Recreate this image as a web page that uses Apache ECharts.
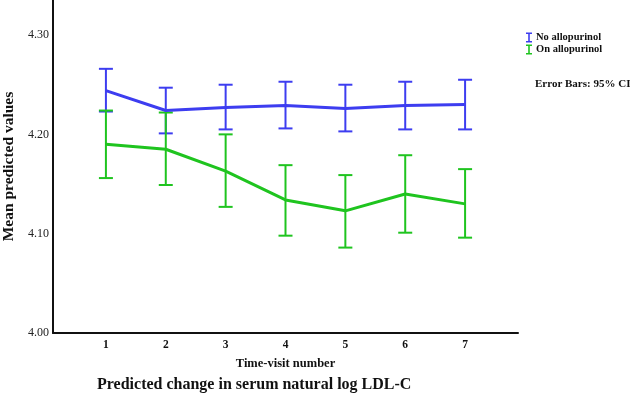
<!DOCTYPE html>
<html>
<head>
<meta charset="utf-8">
<script src="https://cdn.jsdelivr.net/npm/echarts@6/dist/echarts.min.js"></script>
<style>
  html, body { margin: 0; padding: 0; background: #fff; }
  #main { width: 630px; height: 403px; }
</style>
</head>
<body>
<div id="main"></div>
<script>
// visit numbers
var visits = [1, 2, 3, 4, 5, 6, 7];
// No allopurinol: mean, upper and lower 95% CI
var noMean  = [4.244, 4.224, 4.227, 4.229, 4.226, 4.229, 4.230];
var noUpper = [4.266, 4.247, 4.250, 4.253, 4.250, 4.253, 4.255];
var noLower = [4.223, 4.201, 4.205, 4.206, 4.203, 4.205, 4.205];
// On allopurinol
var onMean  = [4.190, 4.185, 4.163, 4.134, 4.123, 4.140, 4.130];
var onUpper = [4.224, 4.222, 4.200, 4.169, 4.159, 4.179, 4.165];
var onLower = [4.156, 4.149, 4.127, 4.098, 4.086, 4.101, 4.096];
// y tick labels
var yTicks = [4.0, 4.1, 4.2, 4.3];

var blue = '#3d3df0';
var green = '#1fc41f';
var serif = '"Liberation Serif", "DejaVu Serif", serif';

function pairs(ys) {
    return visits.map(function (v, i) { return [v, ys[i]]; });
}
function bars(lo, hi) {
    return visits.map(function (v, i) { return [v, lo[i], hi[i]]; });
}
// draw an error bar with caps
function errorBar(color) {
    return function (params, api) {
        var lo = api.coord([api.value(0), api.value(1)]);
        var hi = api.coord([api.value(0), api.value(2)]);
        var w = 7;
        var st = { stroke: color, lineWidth: 2 };
        return {
            type: 'group',
            children: [
                { type: 'line', shape: { x1: lo[0], y1: lo[1], x2: hi[0], y2: hi[1] }, style: st },
                { type: 'line', shape: { x1: lo[0] - w, y1: lo[1], x2: lo[0] + w, y2: lo[1] }, style: st },
                { type: 'line', shape: { x1: hi[0] - w, y1: hi[1], x2: hi[0] + w, y2: hi[1] }, style: st }
            ]
        };
    };
}

var ibeam = 'path://M0,0 L6,0 L6,1.5 L3.8,1.5 L3.8,8.5 L6,8.5 L6,10 L0,10 L0,8.5 L2.2,8.5 L2.2,1.5 L0,1.5 Z';

var chart = echarts.init(document.getElementById('main'));
chart.setOption({
    animation: false,
    backgroundColor: '#fff',
    title: [{
        text: 'Predicted change in serum natural log LDL-C',
        left: 92, top: 372,
        textStyle: { fontFamily: serif, fontSize: 16, fontWeight: 'bold', color: '#111' }
    }, {
        text: 'Error Bars: 95% CI',
        left: 530, top: 74,
        textStyle: { fontFamily: serif, fontSize: 11, fontWeight: 'bold', color: '#111' }
    }],
    legend: {
        orient: 'vertical',
        left: 521, top: 27,
        itemWidth: 6, itemHeight: 10, itemGap: 1,
        data: [
            { name: 'No allopurinol', icon: ibeam, itemStyle: { color: blue } },
            { name: 'On allopurinol', icon: ibeam, itemStyle: { color: green } }
        ],
        textStyle: { fontFamily: serif, fontSize: 10.5, fontWeight: 'bold', color: '#111', padding: [0, 0, 0, -1] }
    },
    grid: { left: 53, right: 112, top: 0, bottom: 70, outerBoundsMode: 'none' },
    xAxis: {
        type: 'value',
        min: 0.116, max: 7.884,
        name: 'Time-visit number',
        nameLocation: 'middle',
        nameGap: 24,
        nameTextStyle: { fontFamily: serif, fontSize: 12.5, fontWeight: 'bold', color: '#111' },
        axisLine: { lineStyle: { color: '#111', width: 2 } },
        axisTick: { show: false },
        splitLine: { show: false },
        axisLabel: {
            customValues: visits,
            margin: 6,
            fontFamily: serif, fontSize: 11.5, fontWeight: 'bold', color: '#111'
        }
    },
    yAxis: {
        type: 'value',
        min: 4.0, max: 4.3353,
        name: 'Mean predicted values',
        nameLocation: 'middle',
        nameGap: 34,
        nameTextStyle: { fontFamily: serif, fontSize: 15.5, fontWeight: 'bold', color: '#111' },
        axisLine: { show: true, lineStyle: { color: '#111', width: 2 } },
        axisTick: { show: false },
        splitLine: { show: false },
        axisLabel: {
            customValues: yTicks,
            margin: 4,
            formatter: function (v) { return v.toFixed(2); },
            fontFamily: serif, fontSize: 12, color: '#222'
        }
    },
    series: [{
        name: 'No allopurinol',
        type: 'custom',
        renderItem: errorBar(blue),
        itemStyle: { color: blue },
        data: bars(noLower, noUpper),
        z: 3
    }, {
        name: 'On allopurinol',
        type: 'custom',
        renderItem: errorBar(green),
        itemStyle: { color: green },
        data: bars(onLower, onUpper),
        z: 3
    }, {
        name: 'noLine',
        type: 'line',
        data: pairs(noMean),
        showSymbol: false,
        lineStyle: { color: blue, width: 3 },
        z: 4
    }, {
        name: 'onLine',
        type: 'line',
        data: pairs(onMean),
        showSymbol: false,
        lineStyle: { color: green, width: 3 },
        z: 4
    }]
});
</script>
</body>
</html>
